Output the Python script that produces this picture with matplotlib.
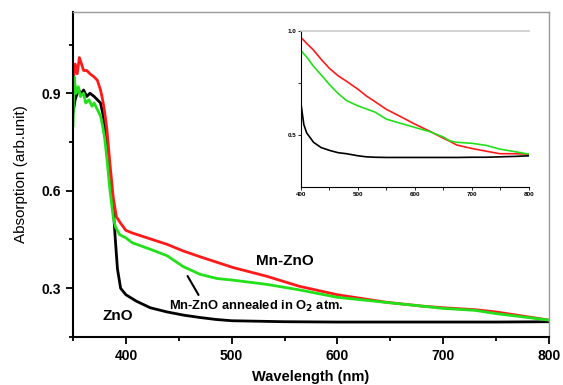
"""
UV-vis absorption of ZnO, Mn-ZnO and annealed Mn-ZnO films
with an inset of the 400-800 nm region.
"""

import matplotlib
matplotlib.use("Agg")
import matplotlib.pyplot as plt
from matplotlib.ticker import MultipleLocator

plt.rcParams['font.family'] = ['Liberation Sans', 'DejaVu Sans']

# main panel
wl_zno = [350, 352, 355, 358, 360, 363, 366, 370, 373, 376, 378, 380, 382, 385, 388,
          390, 392, 395, 400, 405, 410, 423, 439, 455, 470, 485, 500, 550,
          600, 650, 700, 750, 800]
abs_zno = [0.84, 0.88, 0.91, 0.90, 0.91, 0.89, 0.90, 0.89, 0.88, 0.87, 0.84, 0.80, 0.74, 0.65, 0.55,
           0.45, 0.36, 0.30, 0.28, 0.27, 0.26, 0.24, 0.227, 0.217, 0.21, 0.204, 0.2, 0.197,
           0.196, 0.196, 0.196, 0.196, 0.197]

wl_mn = [350, 352, 354, 356, 358, 360, 363, 366, 370, 373, 376, 378, 380, 382, 385, 388,
         391, 395, 400, 406, 423, 439, 454, 470, 486, 501, 533, 564, 600, 646,
         680, 700, 730, 750, 780, 800]
abs_mn = [0.93, 0.99, 0.96, 1.01, 0.99, 0.97, 0.97, 0.96, 0.95, 0.94, 0.91, 0.88, 0.84, 0.79, 0.68, 0.58,
          0.52, 0.50, 0.478, 0.47, 0.452, 0.435, 0.415, 0.397, 0.38, 0.364, 0.337, 0.306, 0.28, 0.257,
          0.245, 0.24, 0.234, 0.227, 0.212, 0.202]

wl_ann = [350, 351, 353, 355, 357, 360, 362, 365, 368, 370, 373, 376, 378, 380, 382, 385, 388,
          390, 394, 400, 406, 423, 439, 454, 470, 486, 501, 533, 564, 600, 630,
          650, 680, 700, 730, 750, 780, 800]
abs_ann = [0.80, 0.95, 0.90, 0.92, 0.89, 0.90, 0.87, 0.88, 0.86, 0.87, 0.85, 0.83, 0.80, 0.76, 0.70, 0.60, 0.52,
           0.49, 0.465, 0.455, 0.44, 0.42, 0.40, 0.367, 0.343, 0.33, 0.325, 0.312, 0.295, 0.272, 0.262,
           0.255, 0.245, 0.238, 0.232, 0.222, 0.21, 0.202]

# inset panel
wl_in = [400, 405, 410, 422, 435, 450, 465, 480, 500, 515, 530, 550, 575, 600, 626,
         650, 661, 673, 700, 725, 749, 775, 800]
in_zno = [0.65, 0.55, 0.51, 0.465, 0.44, 0.426, 0.415, 0.41, 0.40, 0.395, 0.393, 0.392, 0.392, 0.392, 0.392,
          0.392, 0.392, 0.392, 0.393, 0.393, 0.395, 0.397, 0.40]
in_mn = [0.967, 0.955, 0.94, 0.908, 0.865, 0.82, 0.785, 0.758, 0.72, 0.687, 0.66, 0.623, 0.588, 0.552, 0.518,
         0.484, 0.47, 0.452, 0.435, 0.422, 0.41, 0.41, 0.408]
in_ann = [0.905, 0.89, 0.875, 0.83, 0.79, 0.742, 0.70, 0.665, 0.64, 0.625, 0.61, 0.576, 0.556, 0.536, 0.516,
          0.49, 0.472, 0.465, 0.46, 0.45, 0.432, 0.42, 0.408]

RED = '#ff1a1a'
GREEN = '#22e01a'

fig = plt.figure(figsize=(5.63, 3.85), dpi=100)
ax = fig.add_axes([0.1297, 0.1247, 0.8453, 0.8441])

ax.plot(wl_zno, abs_zno, color='black', lw=2)
ax.plot(wl_mn, abs_mn, color=RED, lw=2)
ax.plot(wl_ann, abs_ann, color=GREEN, lw=2)

ax.set_xlim(350, 800)
ax.set_ylim(0.15, 1.15)
ax.xaxis.set_major_locator(MultipleLocator(100))
ax.xaxis.set_minor_locator(MultipleLocator(50))
ax.set_yticks([0.3, 0.6, 0.9])
ax.set_yticks([0.15, 0.45, 0.75, 1.05], minor=True)
ax.tick_params(which='both', direction='out', width=1.3, labelsize=10)
ax.tick_params(which='major', length=5)
ax.tick_params(which='minor', length=3)
for lab in ax.get_xticklabels() + ax.get_yticklabels():
    lab.set_fontweight('bold')
for s in ('left', 'bottom'):
    ax.spines[s].set_linewidth(1.5)
for s in ('top', 'right'):
    ax.spines[s].set_color('#999999')
    ax.spines[s].set_linewidth(1.0)

ax.set_xlabel('Wavelength (nm)', fontsize=10.5, fontweight='bold', labelpad=5)
ax.set_ylabel('Absorption (arb.unit)', fontsize=11, labelpad=10)

ax.text(523, 0.383, 'Mn-ZnO', fontsize=11, fontweight='bold', va='center')
ax.text(378, 0.214, 'ZnO', fontsize=11, fontweight='bold', va='center')
ax.text(441, 0.245, r'Mn-ZnO annealed in O$_\mathbf{2}$ atm.', fontsize=9.3,
        fontweight='bold', va='center')
ax.annotate('', xy=(457, 0.345), xytext=(470, 0.272),
            arrowprops=dict(arrowstyle='-', color='black', lw=1.5))

# inset
axin = fig.add_axes([0.5346, 0.5143, 0.405, 0.4052])
axin.plot(wl_in, in_zno, color='black', lw=1.2)
axin.plot(wl_in, in_mn, color=RED, lw=1.2)
axin.plot(wl_in, in_ann, color=GREEN, lw=1.2)
axin.set_xlim(400, 800)
axin.set_ylim(0.25, 1.0)
axin.xaxis.set_major_locator(MultipleLocator(100))
axin.xaxis.set_minor_locator(MultipleLocator(50))
axin.set_yticks([0.5, 1.0])
axin.set_yticklabels(['0.5', '1.0'])
axin.set_yticks([0.75], minor=True)
axin.tick_params(which='both', direction='out', length=2, width=0.6, labelsize=4.5, pad=1.5)
for lab in axin.get_xticklabels() + axin.get_yticklabels():
    lab.set_fontweight('bold')
axin.spines['right'].set_visible(False)
axin.spines['top'].set_color('#cccccc')
axin.spines['top'].set_linewidth(1.2)

fig.savefig('out.png', dpi=100)
